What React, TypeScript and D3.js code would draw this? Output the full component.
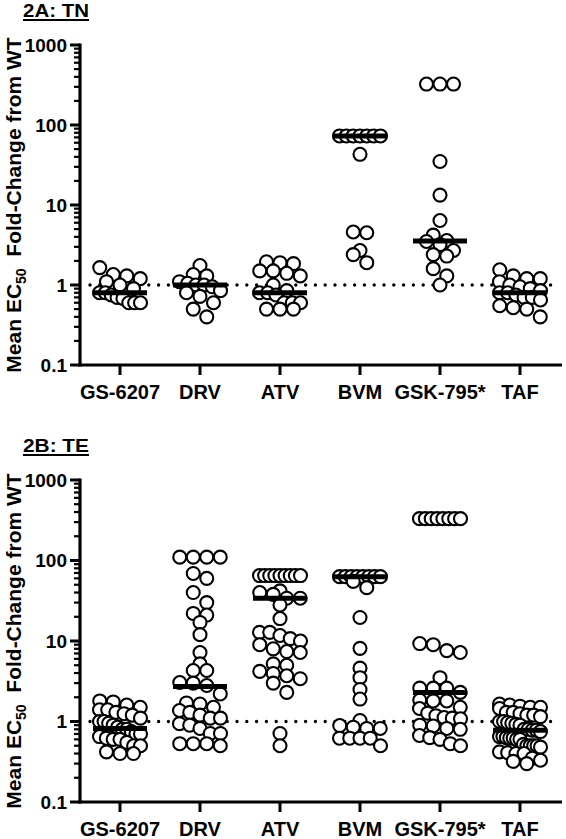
import React from "react";
import * as d3 from "d3";

const categories = ["GS-6207", "DRV", "ATV", "BVM", "GSK-795*", "TAF"];
const yTickValues = [0.1, 1, 10, 100, 1000];
const referenceLine = 1;

// Panel 2A: TN
const tnGS6207 = [1.65, 1.35, 1.3, 1.2, 1.1, 1.0, 0.9, 0.8, 0.8, 0.75, 0.7, 0.68, 0.6, 0.6, 0.6];
const tnDRV = [1.75, 1.35, 1.3, 1.1, 1.05, 1.0, 1.0, 0.95, 0.85, 0.8, 0.72, 0.6, 0.5, 0.4];
const tnATV = [1.95, 1.9, 1.85, 1.5, 1.5, 1.4, 1.3, 1.0, 0.85, 0.8, 0.8, 0.75, 0.6, 0.6, 0.6, 0.5, 0.5, 0.5];
const tnBVM = [73, 73, 73, 73, 73, 73, 73, 43, 4.6, 4.5, 2.7, 2.4, 1.9];
const tnGSK795 = [325, 325, 325, 35, 13.3, 6.4, 4.2, 3.6, 3.5, 3.2, 2.7, 2.4, 2.3, 1.6, 1.3, 1.0];
const tnTAF = [1.55, 1.3, 1.2, 1.2, 1.1, 1.0, 0.95, 0.9, 0.85, 0.8, 0.8, 0.75, 0.7, 0.7, 0.65, 0.55, 0.52, 0.5, 0.4];
const tnMedians = [0.8, 1.0, 0.8, 73, 3.55, 0.8];

// Panel 2B: TE
const teGS6207 = [1.8, 1.75, 1.6, 1.5, 1.4, 1.4, 1.3, 1.25, 1.2, 1.1, 1.0, 1.0, 0.95, 0.9, 0.85, 0.8, 0.8, 0.75, 0.7, 0.7, 0.65, 0.62, 0.6, 0.6, 0.55, 0.5, 0.5, 0.42, 0.4, 0.4];
const teDRV = [110, 110, 110, 110, 69, 60, 40, 30, 22, 21, 17, 12, 7.2, 5.2, 4.3, 4.3, 3.05, 3.0, 2.8, 2.2, 1.7, 1.65, 1.5, 1.37, 1.3, 1.2, 1.1, 1.1, 0.94, 0.9, 0.82, 0.71, 0.71, 0.53, 0.53, 0.53, 0.5];
const teATV = [65, 65, 65, 65, 65, 65, 65, 65, 65, 42, 40, 38, 34, 34, 28, 19, 12.8, 12.8, 11.7, 10.7, 10, 9, 8, 7.4, 7.2, 5.2, 5.0, 4.2, 3.95, 3.7, 3.4, 3.0, 2.3, 0.71, 0.5];
const teBVM = [63, 63, 63, 63, 63, 63, 63, 63, 55, 46, 19.6, 8.1, 4.6, 3.5, 2.5, 1.9, 1.03, 0.89, 0.85, 0.82, 0.82, 0.62, 0.62, 0.62, 0.62, 0.5];
const teGSK795 = [331, 331, 331, 331, 331, 331, 331, 331, 9.3, 9.0, 7.6, 7.2, 3.5, 2.6, 2.6, 2.6, 2.3, 1.85, 1.8, 1.8, 1.5, 1.45, 1.27, 1.18, 1.12, 1.1, 1.08, 0.9, 0.88, 0.82, 0.8, 0.67, 0.63, 0.6, 0.53, 0.5];
const teTAF = [1.65, 1.6, 1.55, 1.5, 1.5, 1.45, 1.3, 1.3, 1.25, 1.2, 1.2, 1.15, 1.0, 1.0, 0.97, 0.95, 0.92, 0.9, 0.8, 0.8, 0.78, 0.78, 0.75, 0.65, 0.65, 0.63, 0.62, 0.62, 0.6, 0.6, 0.52, 0.5, 0.5, 0.5, 0.5, 0.48, 0.42, 0.41, 0.4, 0.4, 0.35, 0.33, 0.32, 0.3];
const teMedians = [0.82, 2.72, 34, 63, 2.3, 0.78];

const FONT = "'Liberation Sans', Arial, Helvetica, sans-serif";
const R = 6.5;
const SPACING = 13.5;
const MAX_HALF = 20.5;
const BIN_H = 13;

function layoutColumn(values: number[], y: (v: number) => number) {
  const bins = new Map<number, { v: number; y: number }[]>();
  values.forEach((v) => {
    const py = y(v);
    const b = Math.round(py / BIN_H);
    if (!bins.has(b)) bins.set(b, []);
    bins.get(b)!.push({ v, y: py });
  });
  const out: { dx: number; y: number }[] = [];
  bins.forEach((pts) => {
    const n = pts.length;
    const sp = n > 1 ? Math.min(SPACING, (2 * MAX_HALF) / (n - 1)) : 0;
    pts.forEach((p, i) => out.push({ dx: (i - (n - 1) / 2) * sp, y: p.y }));
  });
  return out;
}

type PanelProps = {
  title: string;
  titleY: number;
  top: number;
  bottom: number;
  series: number[][];
  medians: number[];
};

function Panel({ title, titleY, top, bottom, series, medians }: PanelProps) {
  const x = d3.scaleBand<string>().domain(categories).range([80, 560]);
  const y = d3.scaleLog().domain([0.1, 1000]).range([bottom, top]);
  const axisX = 80;
  const allTicks = y.ticks();
  const isMajor = (t: number) => yTickValues.some((m) => Math.abs(m - t) / m < 1e-6);
  const midY = (top + bottom) / 2;
  const fmt = (t: number) => (t < 1 ? String(t) : d3.format("d")(t));
  return (
    <g>
      <text x={23} y={titleY} fontFamily={FONT} fontWeight="bold" fontSize={18} textLength={66} lengthAdjust="spacingAndGlyphs">
        {title}
      </text>
      <line x1={23} x2={89} y1={titleY + 3} y2={titleY + 3} stroke="#000" strokeWidth={2} />
      <text
        transform={`translate(21,${midY}) rotate(-90)`}
        textAnchor="middle"
        fontFamily={FONT}
        fontWeight="bold"
        fontSize={21}
      >
        Mean EC<tspan fontSize={14} dy={5}>50</tspan>
        <tspan dy={-5}>{"\u00A0\u00A0Fold-Change from WT"}</tspan>
      </text>
      <line
        x1={axisX + 10}
        x2={560}
        y1={y(referenceLine)}
        y2={y(referenceLine)}
        stroke="#000"
        strokeWidth={3.4}
        strokeLinecap="round"
        strokeDasharray="0 9.8"
      />
      {allTicks.map((t, i) => {
        const major = isMajor(t);
        return (
          <line key={i} x1={axisX - (major ? 10 : 6)} x2={axisX} y1={y(t)} y2={y(t)} stroke="#000" strokeWidth={major ? 3 : 2.2} />
        );
      })}
      {yTickValues.map((t) => (
        <text key={t} x={67} y={y(t)} dy="0.36em" textAnchor="end" fontFamily={FONT} fontWeight="bold" fontSize={19}>
          {fmt(t)}
        </text>
      ))}
      <line x1={axisX} x2={axisX} y1={top - 1.5} y2={bottom + 1.5} stroke="#000" strokeWidth={3.2} />
      <line x1={axisX - 1.5} x2={562} y1={bottom} y2={bottom} stroke="#000" strokeWidth={3.2} />
      {categories.map((c) => {
        const cx = x(c)! + x.bandwidth() / 2;
        return (
          <g key={c}>
            <line x1={cx} x2={cx} y1={bottom} y2={bottom + 10} stroke="#000" strokeWidth={3} />
            <text x={cx} y={bottom + 34} textAnchor="middle" fontFamily={FONT} fontWeight="bold" fontSize={20}>
              {c}
            </text>
          </g>
        );
      })}
      {series.map((vals, ci) => {
        const cx = x(categories[ci])! + x.bandwidth() / 2;
        const pts = layoutColumn(vals, y);
        return (
          <g key={ci}>
            {pts.map((p, i) => (
              <circle key={i} cx={cx + p.dx} cy={p.y} r={R} fill="#fff" stroke="#000" strokeWidth={2.1} />
            ))}
          </g>
        );
      })}
      {medians.map((m, ci) => {
        const cx = x(categories[ci])! + x.bandwidth() / 2;
        return <line key={ci} x1={cx - 27} x2={cx + 27} y1={y(m)} y2={y(m)} stroke="#000" strokeWidth={5} />;
      })}
    </g>
  );
}

export default function App() {
  return (
    <svg width={566} height={839} style={{ position: "absolute", left: 0, top: 0, background: "#fff" }}>
      <rect width={566} height={839} fill="#fff" />
      <Panel
        title="2A: TN"
        titleY={17}
        top={45}
        bottom={365}
        series={[tnGS6207, tnDRV, tnATV, tnBVM, tnGSK795, tnTAF]}
        medians={tnMedians}
      />
      <Panel
        title="2B: TE"
        titleY={452}
        top={480}
        bottom={802}
        series={[teGS6207, teDRV, teATV, teBVM, teGSK795, teTAF]}
        medians={teMedians}
      />
    </svg>
  );
}
